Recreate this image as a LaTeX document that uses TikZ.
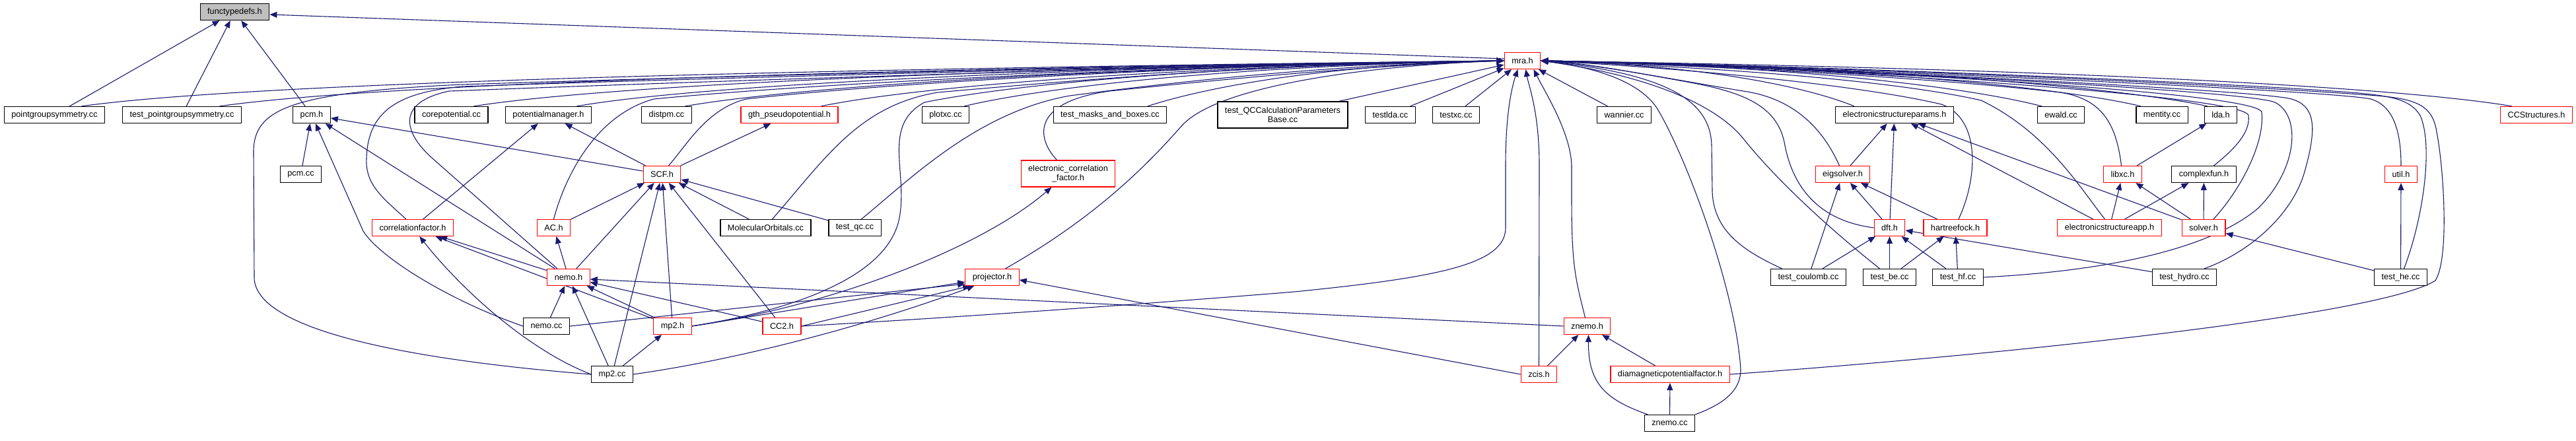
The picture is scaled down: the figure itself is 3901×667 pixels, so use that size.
\documentclass[tikz,border=0pt]{standalone}
\usepackage{fontspec}
\usepackage{xcolor}
\usetikzlibrary{arrows.meta, backgrounds}
\newfontfamily\dotfont{Liberation Sans}
\definecolor{edgeblue}{RGB}{25,25,112}
\definecolor{nodered}{RGB}{255,0,0}
\definecolor{rootgray}{RGB}{191,191,191}

\tikzset{
  file/.style={draw=black, line width=1.2pt, fill=white, inner xsep=11pt, inner ysep=0pt,
    minimum height=25pt, font=\dotfont\fontsize{12.7}{14.5}\selectfont},
  redfile/.style={file, draw=nodered},
  incl/.style={-{Triangle[length=11pt,width=9pt]}, draw=edgeblue, line width=1.1pt}
}

\begin{document}
\begin{tikzpicture}[x=1pt, y=-1pt]
        \useasboundingbox (0,0) rectangle (3901,667);

        % Root and mra.h
        \node[file, fill=rootgray] (ftd) at (355.5,18) {functypedefs.h};
        \node[redfile] (mra) at (2305.5,92) {mra.h};

        % Row 2
        \node[file] (pgs) at (82.5,174) {pointgroupsymmetry.cc};
        \node[file] (tpgs) at (275.5,174) {test\_pointgroupsymmetry.cc};
        \node[file] (pcmh) at (472,174) {pcm.h};
        \node[file] (corepot) at (683.5,174) {corepotential.cc};
        \node[file] (potmgr) at (830.5,174) {potentialmanager.h};
        \node[file] (distpm) at (1009.5,174) {distpm.cc};
        \node[redfile] (gth) at (1195.5,174) {gth\_pseudopotential.h};
        \node[file] (plotxc) at (1432,174) {plotxc.cc};
        \node[file] (tmab) at (1681,174) {test\_masks\_and\_boxes.cc};
        \node[file, align=center, minimum height=40pt] (tqcp) at (1942.5,174) {test\_QCCalculationParameters\\Base.cc};
        \node[file] (testlda) at (2105.5,174) {testlda.cc};
        \node[file] (testxc) at (2205,174) {testxc.cc};
        \node[file] (wannier) at (2459.5,174) {wannier.cc};
        \node[file] (esp) at (2869,174) {electronicstructureparams.h};
        \node[file] (ewald) at (3121,174) {ewald.cc};
        \node[file] (mentity) at (3274,174) {mentity.cc};
        \node[file] (lda) at (3363,174) {lda.h};
        \node[redfile] (ccs) at (3841,174) {CCStructures.h};

        % Row 3
        \node[file] (pcmcc) at (455.5,264) {pcm.cc};
        \node[redfile] (scf) at (1002.5,264) {SCF.h};
        \node[redfile, align=center, minimum height=40pt] (ecf) at (1617.5,263) {electronic\_correlation\\\_factor.h};
        \node[redfile] (eig) at (2790.5,264) {eigsolver.h};
        \node[redfile] (libxc) at (3214.5,264) {libxc.h};
        \node[file] (cfun) at (3337.5,264) {complexfun.h};
        \node[redfile] (util) at (3636,264) {util.h};

        % Row 4
        \node[redfile] (corrf) at (625,345) {correlationfactor.h};
        \node[redfile] (ac) at (838.5,345) {AC.h};
        \node[file] (mo) at (1159.5,345) {MolecularOrbitals.cc};
        \node[file] (tqc) at (1294.5,345) {test\_qc.cc};
        \node[redfile] (dft) at (2861.5,345) {dft.h};
        \node[redfile] (hf) at (2961,345) {hartreefock.h};
        \node[redfile] (esa) at (3194.5,345) {electronicstructureapp.h};
        \node[redfile] (solver) at (3337,345) {solver.h};

        % Row 5
        \node[redfile] (nemoh) at (861,420) {nemo.h};
        \node[redfile] (proj) at (1502.5,420) {projector.h};
        \node[file] (tcoul) at (2738.5,420) {test\_coulomb.cc};
        \node[file] (tbe) at (2861.5,420) {test\_be.cc};
        \node[file] (thf) at (2965,420) {test\_hf.cc};
        \node[file] (thydro) at (3308,420) {test\_hydro.cc};
        \node[file] (the) at (3635.5,420) {test\_he.cc};

        % Row 6
        \node[file] (nemocc) at (827.5,494) {nemo.cc};
        \node[redfile] (mp2h) at (1018.5,494) {mp2.h};
        \node[redfile] (cc2) at (1184,494) {CC2.h};
        \node[redfile] (znemoh) at (2403.5,494) {znemo.h};

        % Row 7 and 8
        \node[file] (mp2cc) at (927,567) {mp2.cc};
        \node[redfile] (zcis) at (2330.5,567) {zcis.h};
        \node[redfile] (diam) at (2529,567) {diamagneticpotentialfactor.h};
        \node[file] (znemocc) at (2528.5,641) {znemo.cc};

        \begin{scope}[on background layer]
        % into functypedefs.h
        \draw[incl] ([yshift=3pt]mra.west) -- ([yshift=-4pt]ftd.east);
        \draw[incl] (pgs) -- (ftd);
        \draw[incl] (tpgs) -- (ftd);
        \draw[incl] (pcmh) -- (ftd);

        % into mra.h, left
        \draw[incl] ([xshift=41pt]pgs.north) .. controls +(215,-30) and +(-1290,15) .. (mra.west);
        \draw[incl] ([xshift=57pt]tpgs.north) .. controls +(195,-28) and +(-1170,15) .. (mra.west);
        \draw[incl] ([xshift=34pt]corepot.north) .. controls +(156,-25) and +(-940,14) .. (mra.west);
        \draw[incl] ([xshift=43pt]potmgr.north) .. controls +(140,-25) and +(-840,14) .. (mra.west);
        \draw[incl] ([xshift=28pt]distpm.north) .. controls +(124,-22) and +(-745,13) .. (mra.west);
        \draw[incl] ([xshift=48pt]gth.north) .. controls +(104,-22) and +(-620,12) .. (mra.west);
        \draw[incl] ([xshift=28pt]plotxc.north) .. controls +(82,-20) and +(-490,10) .. (mra.west);
        \draw[incl] ([xshift=57pt]tmab.north) .. controls +(54,-18) and +(-320,8) .. (mra.west);
        \draw[incl] ([xshift=85pt]tqcp.north) -- (mra);
        \draw[incl] ([xshift=30pt]testlda.north) -- (mra);
        \draw[incl] ([xshift=14pt]testxc.north) -- (mra);
        \draw[incl] ([xshift=-25pt]wannier.north) -- (mra);
        \draw[incl] (mp2cc.west) .. controls (620,545) and (385,500) .. (385,420) -- (384,230)
            .. controls (384,165) and (440,140) .. (700,128) .. controls (1200,112) and (1900,96) .. (mra.west);
        \draw[incl] ([xshift=-10pt]corrf.north) .. controls (580,300) and (553,280) .. (555,240)
            .. controls (557,170) and (600,140) .. (700,131) .. controls (1200,114) and (1900,97) .. (mra.west);
        \draw[incl] ([xshift=-17pt]nemoh.north) -- (655,240) .. controls (610,200) and (600,155) .. (680,138)
            .. controls (1200,118) and (1900,97) .. (mra.west);
        \draw[incl] (ac.north) .. controls (855,270) and (900,175) .. (990,150)
            .. controls (1300,120) and (1900,97) .. (mra.west);
        \draw[incl] ([xshift=10pt]scf.north) .. controls (1040,220) and (1070,165) .. (1130,150)
            .. controls (1400,120) and (1900,97) .. (mra.west);
        \draw[incl] ([xshift=10pt]mo.north) .. controls (1250,240) and (1300,160) .. (1420,140)
            .. controls (1700,115) and (1950,97) .. (mra.west);
        \draw[incl] ([xshift=10pt]tqc.north) .. controls (1380,270) and (1480,170) .. (1620,145)
            .. controls (1850,115) and (2050,98) .. (mra.west);
        \draw[incl] ([xshift=-17pt]ecf.north) .. controls (1570,210) and (1560,155) .. (1680,138)
            .. controls (1900,115) and (2100,98) .. (mra.west);
        \draw[incl] ([xshift=20pt]proj.north) .. controls (1640,340) and (1720,270) .. (1790,190)
            .. controls (1850,125) and (2100,98) .. (mra.west);
        \draw[incl] (mp2h.east) .. controls (1200,470) and (1345,420) .. (1362,330)
            .. controls (1375,260) and (1335,190) .. (1400,155) .. controls (1600,115) and (2000,96) .. (mra.west);

        % into mra.h, from below
        \draw[incl] (cc2.east) .. controls (1500,478) and (1800,455) .. (1960,442)
            .. controls (2180,420) and (2280,400) .. (2280,345) -- (2280,250)
            .. controls (2280,170) and (2290,130) .. ([xshift=-7pt]mra.south);
        \draw[incl] (zcis.north) -- (2331,250) .. controls (2331,170) and (2315,130) .. ([xshift=5pt]mra.south);
        \draw[incl] ([xshift=-3pt]znemoh.north) .. controls (2385,420) and (2380,400) .. (2380,300) -- (2380,250)
            .. controls (2378,200) and (2340,140) .. ([xshift=17pt]mra.south);

        % into mra.h, right
        \draw[incl] ([xshift=-61pt]esp.north) .. controls +(-48,-20) and +(285,8) .. (mra.east);
        \draw[incl] ([xshift=-29pt]ewald.north) .. controls +(-76,-20) and +(455,10) .. (mra.east);
        \draw[incl] ([xshift=-32pt]mentity.north) .. controls +(-91,-22) and +(545,11) .. (mra.east);
        \draw[incl] ([xshift=-20pt]lda.north) .. controls +(-101,-22) and +(606,12) .. (mra.east);
        \draw[incl] ([xshift=-37pt]ccs.north) .. controls +(-147,-25) and +(880,14) .. (mra.east);
        \draw[incl] ([xshift=-5pt]eig.north) .. controls (2765,205) and (2725,150) .. (2640,138)
            .. controls (2520,118) and (2420,98) .. (mra.east);
        \draw[incl] (dft.west) .. controls (2760,335) and (2715,290) .. (2702,215)
            .. controls (2690,160) and (2640,140) .. (2560,125) .. controls (2450,105) and (2400,96) .. (mra.east);
        \draw[incl] ([xshift=5pt]hf.north) .. controls (2995,270) and (3000,180) .. (2940,158)
            .. controls (2800,125) and (2500,100) .. (mra.east);
        \draw[incl] ([xshift=-2pt]libxc.north) .. controls (3205,190) and (3185,150) .. (3120,140)
            .. controls (2900,115) and (2550,98) .. (mra.east);
        \draw[incl] ([xshift=-7pt]esa.north) .. controls (3150,285) and (3100,200) .. (3000,152)
            .. controls (2850,118) and (2550,100) .. (mra.east);
        \draw[incl] ([xshift=-15pt]tbe.north) .. controls (2750,330) and (2680,260) .. (2640,210)
            .. controls (2600,160) and (2500,115) .. (mra.east);
        \draw[incl] ([xshift=-40pt]tcoul.north) .. controls (2640,380) and (2595,350) .. (2593,290) -- (2592,220)
            .. controls (2590,150) and (2520,112) .. (mra.east);
        \draw[incl] (znemocc.north east) .. controls (2610,612) and (2636,592) .. (2636,560)
            .. controls (2630,450) and (2560,250) .. (2510,165) .. controls (2480,118) and (2400,100) .. (mra.east);
        \draw[incl] ([xshift=15pt]cfun.north) .. controls (3385,225) and (3408,200) .. (3405,175)
            .. controls (3400,140) and (2600,96) .. (mra.east);
        \draw[incl] ([xshift=15pt]solver.north) .. controls (3395,285) and (3430,215) .. (3425,170)
            .. controls (3420,135) and (2600,96) .. (mra.east);
        \draw[incl] (thf.east) .. controls (3200,410) and (3350,375) .. (3420,315)
            .. controls (3480,255) and (3485,175) .. (3445,155) .. controls (3400,135) and (2600,96) .. (mra.east);
        \draw[incl] ([xshift=30pt]thydro.north) .. controls (3400,385) and (3470,330) .. (3490,260)
            .. controls (3510,190) and (3505,160) .. (3470,150) .. controls (3420,135) and (2600,96) .. (mra.east);
        \draw[incl] (util.north) .. controls (3636,200) and (3625,160) .. (3590,150)
            .. controls (3520,135) and (2600,96) .. (mra.east);
        \draw[incl] ([xshift=5pt]the.north) .. controls (3670,330) and (3685,220) .. (3665,175)
            .. controls (3650,150) and (3620,145) .. (3560,140) .. controls (3300,120) and (2600,96) .. (mra.east);
        \draw[incl] (diam.east) .. controls (3000,540) and (3600,480) .. (3688,425)
            .. controls (3710,390) and (3700,250) .. (3690,200) .. controls (3684,160) and (3660,150) .. (3600,145)
            .. controls (3300,122) and (2600,96) .. (mra.east);

        % left part
        \draw[incl] (scf) -- (pcmh);
        \draw[incl] (pcmcc) -- (pcmh);
        \draw[incl] (nemoh) -- (pcmh);
        \draw[incl] (nemocc.west) .. controls (680,455) and (575,390) .. (550,350) -- (pcmh);
        \draw[incl] (corrf) -- (potmgr);
        \draw[incl] (scf) -- (potmgr);
        \draw[incl] (scf) -- (gth);
        \draw[incl] (ac) -- (scf);
        \draw[incl] (nemoh) -- (scf);
        \draw[incl] (mp2cc) -- (scf);
        \draw[incl] (mp2h) -- (scf);
        \draw[incl] (cc2) -- (scf);
        \draw[incl] (mo) -- (scf);
        \draw[incl] (tqc) -- (scf);
        \draw[incl] (nemoh) -- (ac);
        \draw[incl] (nemoh) -- (corrf);
        \draw[incl] (mp2h) -- (corrf);
        \draw[incl] (mp2cc.west) .. controls (800,530) and (700,440) .. (corrf);
        \draw[incl] (nemocc) -- (nemoh);
        \draw[incl] (mp2cc) -- (nemoh);
        \draw[incl] (mp2h) -- (nemoh);
        \draw[incl] (cc2) -- (nemoh);
        \draw[incl] (mp2cc) -- (mp2h);
        \draw[incl] (mp2h.east) .. controls (1250,465) and (1480,380) .. ([xshift=-25pt]ecf.south);
        \draw[incl] (nemocc.east) -- ([yshift=3pt]proj.south west);
        \draw[incl] (mp2h.east) -- ([yshift=6pt]proj.south west);
        \draw[incl] (cc2.east) -- ([xshift=8pt]proj.south west);
        \draw[incl] (mp2cc.east) .. controls (1150,540) and (1350,480) .. ([xshift=14pt]proj.south west);
        \draw[incl] (zcis.west) -- ([yshift=-4pt]proj.east);
        \draw[incl] (znemoh.west) -- ([yshift=-3pt]nemoh.east);

        % znemo part
        \draw[incl] (zcis) -- (znemoh);
        \draw[incl] (diam) -- (znemoh);
        \draw[incl] ([xshift=-33pt]znemocc.north) .. controls (2430,605) and (2405,580) .. ([xshift=2pt]znemoh.south);
        \draw[incl] (znemocc) -- (diam);

        % right part
        \draw[incl] (eig) -- (esp);
        \draw[incl] (dft) -- (esp);
        \draw[incl] (esa) -- (esp);
        \draw[incl] (solver) -- (esp);
        \draw[incl] (dft) -- (eig);
        \draw[incl] (hf) -- (eig);
        \draw[incl] (tcoul) -- (eig);
        \draw[incl] (tcoul) -- (dft);
        \draw[incl] (tbe) -- (dft);
        \draw[incl] (thf) -- (dft);
        \draw[incl] (thydro) -- (dft);
        \draw[incl] (tbe) -- (hf);
        \draw[incl] (thf) -- (hf);
        \draw[incl] (libxc) -- (lda);
        \draw[incl] (esa) -- (libxc);
        \draw[incl] (solver) -- (libxc);
        \draw[incl] (esa) -- (cfun);
        \draw[incl] (solver) -- (cfun);
        \draw[incl] (the) -- (solver);
        \draw[incl] (the) -- (util);
        \end{scope}
    \end{tikzpicture}
\end{document}
